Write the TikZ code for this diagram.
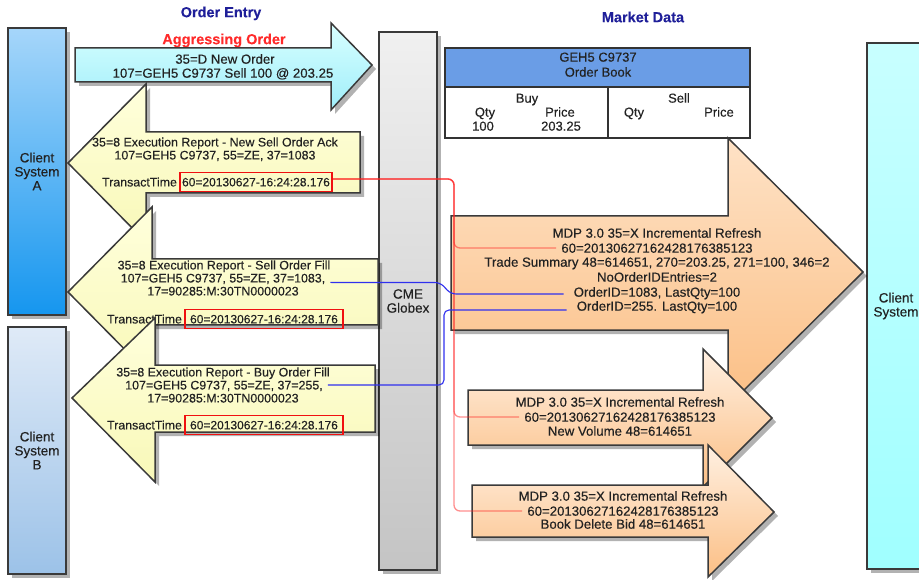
\documentclass[tikz,border=0pt]{standalone}
\usepackage{fontspec}
\setmainfont{Liberation Sans}[FakeBold=0.3]
\usetikzlibrary{shadows}
\definecolor{outl}{HTML}{3A3A3A}
\definecolor{txtc}{HTML}{222222}
\definecolor{caTop}{HTML}{A6D6FA}
\definecolor{caBot}{HTML}{1596EF}
\definecolor{cbTop}{HTML}{DFEAF7}
\definecolor{cbBot}{HTML}{9CC2E8}
\definecolor{gxTop}{HTML}{F0F0F0}
\definecolor{gxBot}{HTML}{C4C4C4}
\definecolor{crTop}{HTML}{C8FFFF}
\definecolor{crBot}{HTML}{A0FFFF}
\definecolor{cyTop}{HTML}{D8FFFF}
\definecolor{cyBot}{HTML}{A0EEFA}
\definecolor{yeTop}{HTML}{FFFFDC}
\definecolor{yeBot}{HTML}{F8F8B8}
\definecolor{orTop}{HTML}{FFF0E2}
\definecolor{orBigTop}{HTML}{FEE2C6}
\definecolor{orMid}{HTML}{FDCA98}
\definecolor{orBot}{HTML}{FBBF85}
\definecolor{hdrblue}{HTML}{6A9DE6}
\definecolor{obline}{HTML}{333333}
\definecolor{navyt}{HTML}{1F1F99}
\definecolor{aggred}{HTML}{FF2A2A}
\definecolor{boxred}{HTML}{F01010}
\definecolor{linered}{HTML}{FF2020}
\definecolor{lineblue}{HTML}{3030EE}
\newcommand\fyel{\fontsize{12.4}{14}\selectfont}
\newcommand\fmdp{\fontsize{13.2}{15}\selectfont}
\newcommand\fbig{\fontsize{13.5}{14}\selectfont}
\newcommand\fttl{\fontsize{14.5}{16}\selectfont\bfseries}
\newcommand\frbx{\fontsize{12}{14}\selectfont}
\newcommand\fob{\fontsize{13}{14}\selectfont}
\begin{document}
\begin{tikzpicture}[x=1pt,y=-1pt,
  shp/.style={draw=outl, line width=1.5pt, drop shadow={shadow xshift=4pt, shadow yshift=-4pt, fill=black, opacity=0.3}},
  csys/.style={shp, inner sep=0pt, align=center, font=\fbig, text=txtc, minimum width=58pt},
  ty/.style={font=\fyel, text=txtc, inner sep=0pt, text height=8.9pt, text depth=0pt},
  tm/.style={font=\fmdp, text=txtc, inner sep=0pt, text height=9.4pt, text depth=0pt},
  ttl/.style={font=\fttl, inner sep=0pt, text height=10.4pt, text depth=0pt},
  rbox/.style={draw=boxred, line width=1.7pt, inner sep=0pt, font=\frbx, text=txtc, minimum height=19pt, text height=8.6pt, text depth=0pt},
  redl/.style={draw=linered, line width=1.3pt, draw opacity=0.5, rounded corners=6pt},
  bluel/.style={draw=lineblue, line width=1.1pt, rounded corners=5pt},
  obcell/.style={draw=obline, line width=1.8pt, inner sep=0pt},
  tob/.style={font=\fob, text=txtc, inner sep=0pt, text height=9.3pt, text depth=0pt}
]
\useasboundingbox (0,0) rectangle (919,580);
\clip (0,0) rectangle (919,580);

% titles
\node[ttl, text=navyt] (oe) at (221,12) {Order Entry};
\node[ttl, text=aggred] (ag) at (224,39) {Aggressing Order};
\node[ttl, text=navyt] (mdt) at (643,17) {Market Data};

% systems
\node[csys, minimum height=287pt, top color=caTop, bottom color=caBot] (csa) at (37,171.5) {Client\\System\\A};
\node[csys, minimum height=247pt, top color=cbTop, bottom color=cbBot] (csb) at (37,450.5) {Client\\System\\B};
\node[csys, minimum height=538pt, top color=gxTop, bottom color=gxBot] (cme) at (408,301) {CME\\Globex};
\node[csys, minimum height=526pt, top color=crTop, bottom color=crBot] (csr) at (896,306) {Client\\System};

% new order arrow
\path[shp, top color=cyTop, bottom color=cyBot] (75,48) -- (331,48) -- (331,23) -- (372,65) -- (331,110) -- (331,82) -- (75,82) -- cycle;
\node[ty, font=\fmdp, text height=9.4pt] (no1) at (225,59) {35=D New Order};
\node[ty, font=\fmdp, text height=9.4pt] (no2) at (223,73) {107=GEH5 C9737 Sell 100 @ 203.25};

% ack arrow
\path[shp, top color=yeTop, bottom color=yeBot] (360,132) -- (146,132) -- (146,84) -- (68,163) -- (146,242) -- (146,193) -- (360,193) -- cycle;
\node[ty] (ack1) at (215,142) {35=8 Execution Report - New Sell Order Ack};
\node[ty] (ack2) at (215,155) {107=GEH5 C9737, 55=ZE, 37=1083};
\node[rbox, minimum width=152pt] (rb1) at (256,182) {60=20130627-16:24:28.176};
\node[ty, anchor=east] (tt1) at ([xshift=-2pt]rb1.west) {TransactTime};

% sell fill arrow
\path[shp, top color=yeTop, bottom color=yeBot] (378,259) -- (152,259) -- (152,207) -- (68,292) -- (152,377) -- (152,325) -- (378,325) -- cycle;
\node[ty] (sf1) at (224,265) {35=8 Execution Report - Sell Order Fill};
\node[ty] (sf2) at (223,278) {107=GEH5 C9737, 55=ZE, 37=1083,};
\node[ty] (sf3) at (223,291) {17=90285:M:30TN0000023};
\node[rbox, minimum width=158pt] (rb2) at (264,319) {60=20130627-16:24:28.176};
\node[ty, anchor=east] (tt2) at ([xshift=-2pt]rb2.west) {TransactTime};

% buy fill arrow
\path[shp, top color=yeTop, bottom color=yeBot] (375,365) -- (155,365) -- (155,318) -- (72,398) -- (155,482) -- (155,432) -- (375,432) -- cycle;
\node[ty] (bf1) at (223,372) {35=8 Execution Report - Buy Order Fill};
\node[ty] (bf2) at (224,385) {107=GEH5 C9737, 55=ZE, 37=255,};
\node[ty] (bf3) at (223,398) {17=90285:M:30TN0000023};
\node[rbox, minimum width=158pt] (rb3) at (264,425) {60=20130627-16:24:28.176};
\node[ty, anchor=east] (tt3) at ([xshift=-2pt]rb3.west) {TransactTime};

% order book
\node[obcell, fill=hdrblue, minimum width=305pt, minimum height=39pt] (obh) at (597.5,67.5) {};
\node[obcell, fill=white, minimum width=163pt, minimum height=51pt] (obb) at (526.5,112.5) {};
\node[obcell, fill=white, minimum width=142pt, minimum height=51pt] (obs) at (679,112.5) {};
\node[tob] (ob1) at (598,57) {GEH5 C9737};
\node[tob] (ob2) at (598,72) {Order Book};
\node[tob] (bb) at (527,98) {Buy};
\node[tob] (bq) at (485,112) {Qty};
\node[tob] (bp) at (560,112) {Price};
\node[tob] (bqv) at (483,126) {100};
\node[tob] (bpv) at (561,126) {203.25};
\node[tob] (ss) at (679,98) {Sell};
\node[tob] (sq) at (634,112) {Qty};
\node[tob] (sp) at (719,112) {Price};

% big market data arrow
\path[shp, top color=orBigTop, middle color=orMid, bottom color=orBot] (451,216) -- (728,216) -- (728,138) -- (863,272) -- (728,406) -- (728,330) -- (451,330) -- cycle;
\node[tm] (mb1) at (657,233) {MDP 3.0 35=X Incremental Refresh};
\node[tm] (mb2) at (657,248) {60=20130627162428176385123};
\node[tm] (mb3) at (657,262) {Trade Summary 48=614651, 270=203.25, 271=100, 346=2};
\node[tm] (mb4) at (657,277) {NoOrderIDEntries=2};
\node[tm] (mb5) at (657,292) {OrderID=1083, LastQty=100};
\node[tm] (mb6) at (657,306) {OrderID=255. LastQty=100};

% new volume arrow
\path[shp, top color=orTop, bottom color=orBot] (468,390) -- (703,390) -- (703,349) -- (772,418) -- (703,487) -- (703,445) -- (468,445) -- cycle;
\node[tm] (nv1) at (620,402) {MDP 3.0 35=X Incremental Refresh};
\node[tm] (nv2) at (620,417) {60=20130627162428176385123};
\node[tm] (nv3) at (620,431) {New Volume 48=614651};

% book delete arrow
\path[shp, top color=orTop, bottom color=orBot] (472,485) -- (708,485) -- (708,445) -- (774,512) -- (708,577) -- (708,537) -- (472,537) -- cycle;
\node[tm] (bd1) at (623,496) {MDP 3.0 35=X Incremental Refresh};
\node[tm] (bd2) at (623,511) {60=20130627162428176385123};
\node[tm] (bd3) at (623,524) {Book Delete Bid 48=614651};

% connectors
\coordinate (xr) at (454,0);
\draw[redl] ([yshift=3pt]rb1.east) -| (xr |- mb2.west) -- ([xshift=-5pt]mb2.west);
\draw[redl] ([yshift=3pt]rb1.east) -| (xr |- nv2.west) -- ([xshift=-5pt]nv2.west);
\draw[redl] ([yshift=3pt]rb1.east) -| (xr |- bd2.west) -- ([xshift=-5pt]bd2.west);
\draw[bluel] ([xshift=5pt]sf2.base east) -- (440,282.5) -- (451,294) -- ([shift={(-10pt,-2pt)}]mb5.west);
\draw[bluel] ([xshift=5pt]bf2.east) -- (444,385) -- (444,310) -- ([shift={(-10pt,-4pt)}]mb6.west);
\end{tikzpicture}
\end{document}
